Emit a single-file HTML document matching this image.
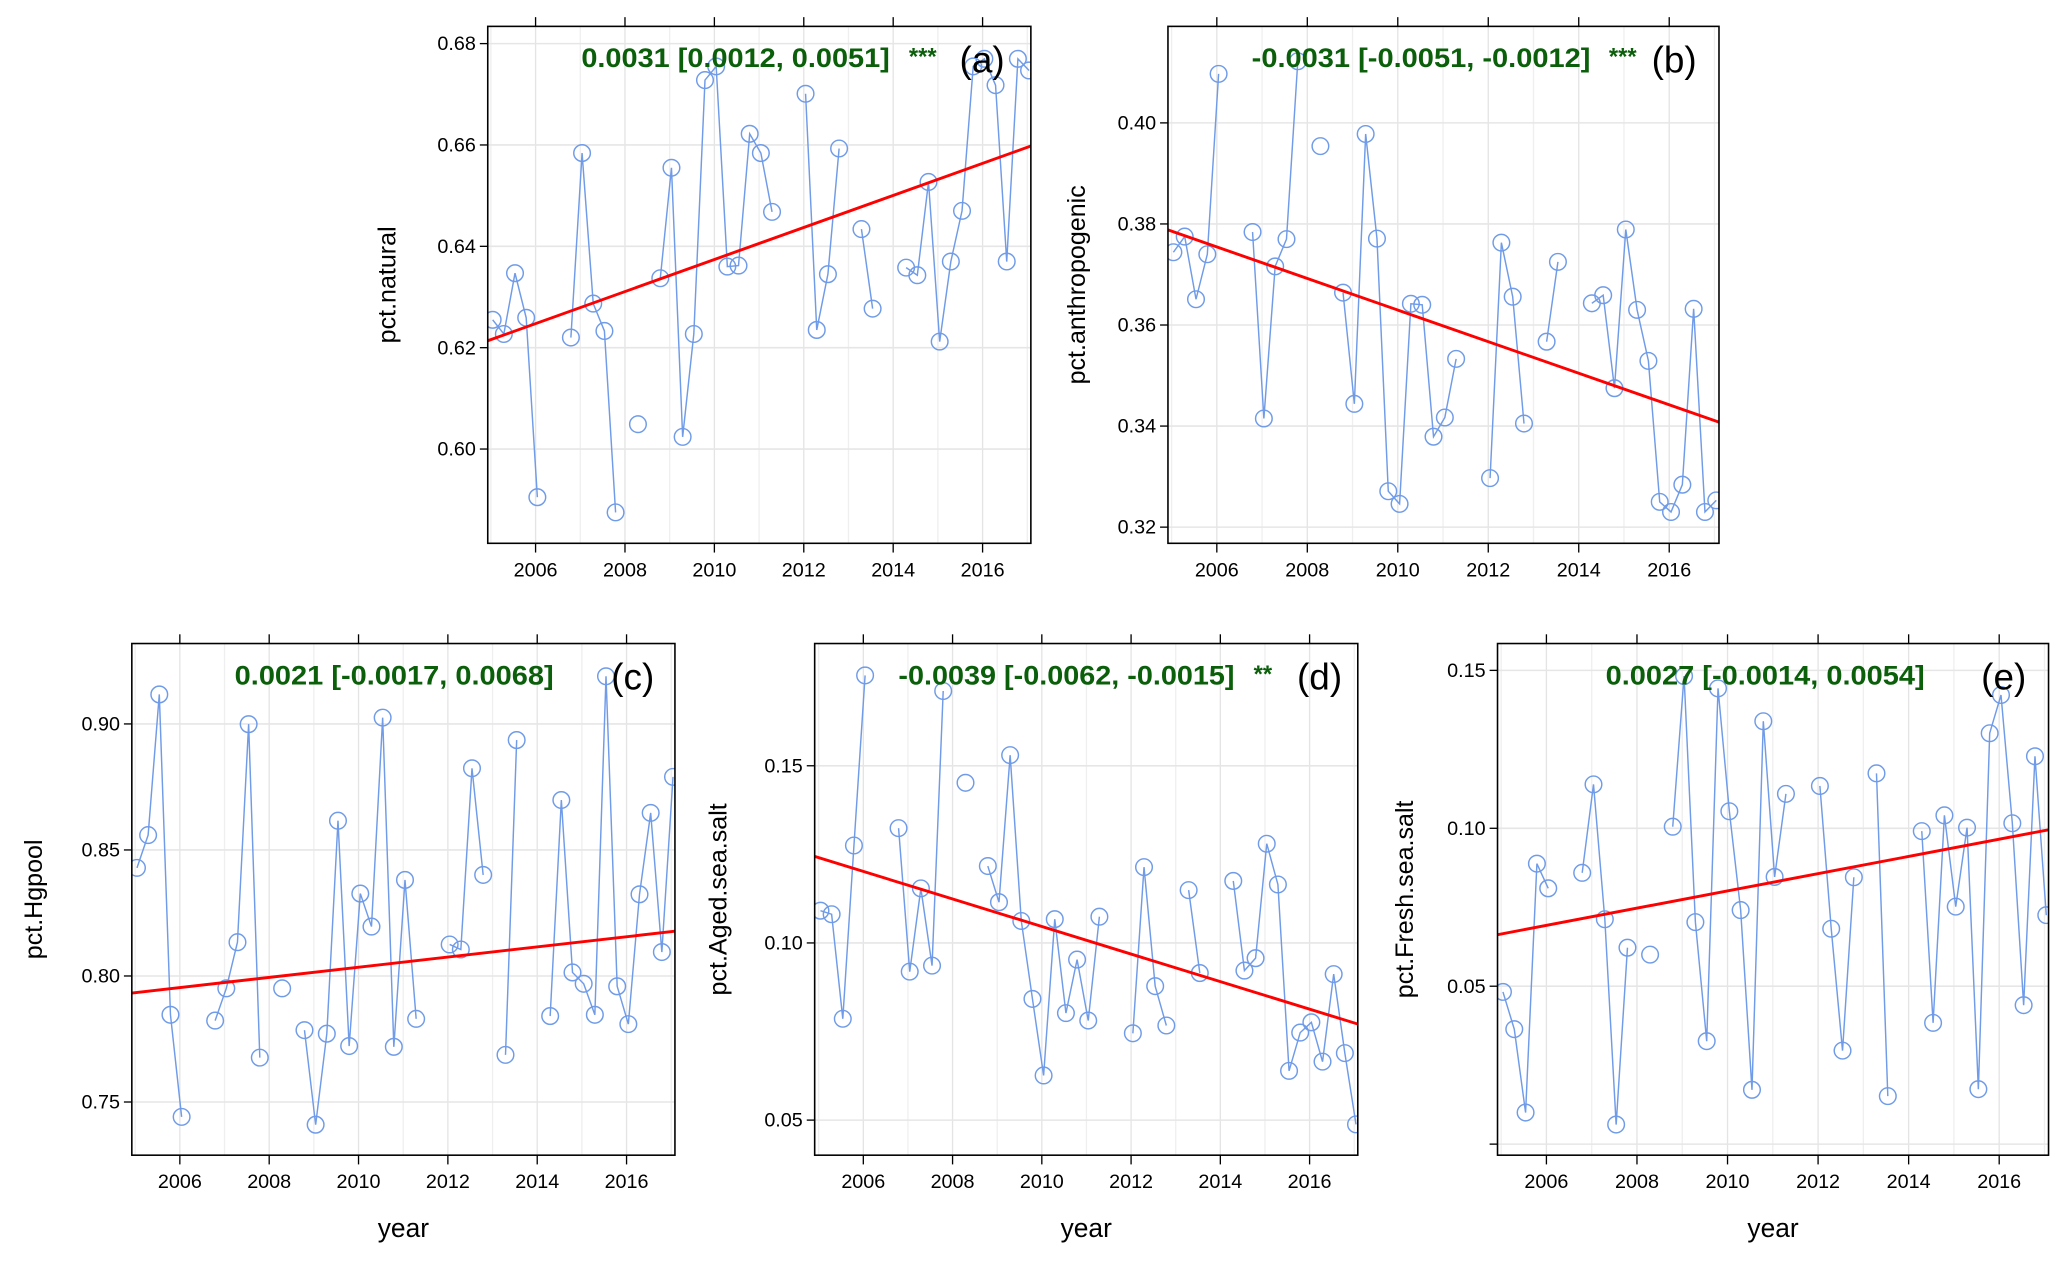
<!DOCTYPE html>
<html><head><meta charset="utf-8"><title>Trend panels</title>
<style>
html,body{margin:0;padding:0;background:#fff;}
svg{display:block;font-family:"Liberation Sans",Arial,sans-serif;}
</style></head>
<body>
<svg id="chart" xmlns="http://www.w3.org/2000/svg" width="2067" height="1262" viewBox="0 0 1568 957" preserveAspectRatio="none"></svg>
<script>
const quarterTimes = [2005.04,2005.29,2005.54,2005.79,2006.04,2006.29,2006.54,2006.79,2007.04,2007.29,2007.54,2007.79,2008.04,2008.29,2008.54,2008.79,2009.04,2009.29,2009.54,2009.79,2010.04,2010.29,2010.54,2010.79,2011.04,2011.29,2011.54,2011.79,2012.04,2012.29,2012.54,2012.79,2013.04,2013.29,2013.54,2013.79,2014.04,2014.29,2014.54,2014.79,2015.04,2015.29,2015.54,2015.79,2016.04,2016.29,2016.54,2016.79,2017.04];
const pctNatural = [.6255,.6227,.6347,.6259,.5905,null,null,.622,.6584,.6287,.6233,.5875,null,.6049,null,.6337,.6555,.6024,.6227,.6728,.6755,.636,.6362,.6622,.6584,.6468,null,null,.6701,.6235,.6345,.6593,null,.6434,.6277,null,null,.6358,.6343,.6527,.6212,.637,.647,.6755,.677,.6718,.637,.677,.6747];
const pctAnthropogenic = [.3744,.3775,.3651,.374,.4097,null,null,.3784,.3415,.3716,.377,.4122,null,.3954,null,.3664,.3444,.3978,.3771,.3271,.3246,.3642,.364,.3379,.3417,.3533,null,null,.3297,.3763,.3656,.3405,null,.3567,.3725,null,null,.3643,.3659,.3475,.3789,.363,.3529,.325,.323,.3284,.3632,.323,.3253];
const pctHgpool = [.8429,.8559,.9117,.7846,.7441,null,null,.7823,.7951,.8134,.8999,.7676,null,.7951,null,.7785,.741,.7771,.8616,.7722,.8327,.8196,.9025,.7719,.8381,.783,null,null,.8125,.8105,.8824,.8401,null,.7687,.8936,null,null,.7841,.8698,.8014,.7969,.7846,.9189,.7959,.7809,.8324,.8647,.8095,.879];
const pctAgedSeaSalt = [.1091,.1081,.0786,.1275,.1755,null,null,.1324,.0919,.1154,.0936,.1711,null,.1452,null,.1217,.1115,.153,.1062,.0842,.0626,.1067,.0802,.0953,.0781,.1074,null,null,.0745,.1214,.0878,.0767,null,.1149,.0915,null,null,.1175,.0922,.0957,.128,.1165,.0639,.0747,.0776,.0665,.0912,.0689,.0488];
const pctFreshSeaSalt = [.0482,.0364,.01,.0888,.081,null,null,.0859,.1139,.0712,.0062,.0622,null,.06,null,.1005,.1482,.0703,.0326,.1443,.1054,.0741,.0172,.1339,.0846,.1109,null,null,.1134,.0682,.0296,.0845,null,.1174,.0152,null,null,.0991,.0384,.1041,.0752,.1002,.0174,.1301,.1422,.1016,.044,.1228,.0725];
const xTickYears = [2006,2008,2010,2012,2014,2016];
const yTicksA = [0.60,0.62,0.64,0.66,0.68];
const yTicksB = [0.32,0.34,0.36,0.38,0.40];
const yTicksC = [0.75,0.80,0.85,0.90];
const yTicksD = [0.05,0.10,0.15];
const yTicksE = [0.00,0.05,0.10,0.15];
const annotationA = "0.0031 [0.0012, 0.0051]";
const annotationB = "-0.0031 [-0.0051, -0.0012]";
const annotationC = "0.0021 [-0.0017, 0.0068]";
const annotationD = "-0.0039 [-0.0062, -0.0015]";
const annotationE = "0.0027 [-0.0014, 0.0054]";

const NS = "http://www.w3.org/2000/svg";
const svg = document.getElementById('chart');
function mk(tag, attrs, parent){
  const e = document.createElementNS(NS, tag);
  for (const k in attrs) e.setAttribute(k, attrs[k]);
  (parent||svg).appendChild(e);
  return e;
}
function median(arr){
  const s = arr.slice().sort((a,b)=>a-b);
  const m = Math.floor(s.length/2);
  return s.length % 2 ? s[m] : (s[m-1]+s[m])/2;
}

const panels = [
  {id:'a', box:[370,20,782,412], xr:[2004.93,2017.08], yr:[0.5814,0.6834], vals:pctNatural, ticks:yTicksA, labels:yTicksA.map(v=>v.toFixed(2)), ylab:'pct.natural', ann:annotationA, annW:234, stars:'***', annX:558, starX:700, letX:745, xlab:false, ylabX:300},
  {id:'b', box:[886,20,1304,412], xr:[2004.92,2017.10], yr:[0.3168,0.4191], vals:pctAnthropogenic, ticks:yTicksB, labels:yTicksB.map(v=>v.toFixed(2)), ylab:'pct.anthropogenic', ann:annotationB, annW:257, stars:'***', annX:1078, starX:1231, letX:1270, xlab:false, ylabX:823},
  {id:'c', box:[100,488,512,876], xr:[2004.925,2017.083], yr:[0.7289,0.9319], vals:pctHgpool, ticks:yTicksC, labels:yTicksC.map(v=>v.toFixed(2)), ylab:'pct.Hgpool', ann:annotationC, annW:242, stars:'', annX:299, starX:0, letX:480, xlab:true, ylabX:32},
  {id:'d', box:[618,488,1030,876], xr:[2004.91,2017.08], yr:[0.0401,0.1845], vals:pctAgedSeaSalt, ticks:yTicksD, labels:yTicksD.map(v=>v.toFixed(2)), ylab:'pct.Aged.sea.salt', ann:annotationD, annW:255, stars:'**', annX:809, starX:958, letX:1001, xlab:true, ylabX:551},
  {id:'e', box:[1136,488,1554,876], xr:[2004.92,2017.09], yr:[-0.0035,0.1585], vals:pctFreshSeaSalt, ticks:yTicksE, labels:yTicksE.map(v=>v===0?'':v.toFixed(2)), ylab:'pct.Fresh.sea.salt', ann:annotationE, annW:242, stars:'', annX:1339, starX:0, letX:1520, xlab:true, ylabX:1072}
];

panels.forEach(p => {
  const [x0,y0,x1,y1] = p.box;
  const X = t => x0 + (t - p.xr[0])/(p.xr[1]-p.xr[0])*(x1-x0);
  const Y = v => y1 - (v - p.yr[0])/(p.yr[1]-p.yr[0])*(y1-y0);
  const g = mk('g', {});
  
  
  const clipId = 'clip-' + p.id;
  const cp = mk('clipPath', {id: clipId}, g);
  mk('rect', {x:x0, y:y0, width:x1-x0, height:y1-y0}, cp);

  for (let yr = 2005; yr <= 2017; yr++) {
    const gx = X(yr);
    if (gx <= x0 || gx >= x1) continue;
    const major = xTickYears.includes(yr);
    const l = mk('line', {x1:gx, x2:gx, y1:y0, y2:y1, stroke: major ? '#e4e4e4' : '#efefef', 'stroke-width':1}, g);
    
    
  }
  p.ticks.forEach((v, i) => {
    const gy = Y(v);
    const l = mk('line', {x1:x0, x2:x1, y1:gy, y2:gy, stroke:'#e6e6e6', 'stroke-width':1.2}, g);
    
    
    const tk = mk('line', {x1:x0-6, x2:x0, y1:gy, y2:gy, stroke:'#000', 'stroke-width':1}, g);
    
    
    if (p.labels[i] !== '') {
      const t = mk('text', {x:x0-9, y:gy+5, 'text-anchor':'end', 'font-size':15, fill:'#000'}, g);
      t.textContent = p.labels[i];
      
      
    }
  });
  xTickYears.forEach(yr => {
    const gx = X(yr);
    const tb = mk('line', {x1:gx, x2:gx, y1:y1, y2:y1+7, stroke:'#000', 'stroke-width':1}, g);
    
    
    const tt = mk('line', {x1:gx, x2:gx, y1:y0-7, y2:y0, stroke:'#000', 'stroke-width':1}, g);
    
    
    const t = mk('text', {x:gx, y:y1+25, 'text-anchor':'middle', 'font-size':15, fill:'#000'}, g);
    t.textContent = String(yr);
    
    
  });

  const inner = mk('g', {'clip-path':'url(#' + clipId + ')'}, g);
  let seg = [];
  const flush = () => {
    if (seg.length > 1) {
      const pl = mk('polyline', {points: seg.join(' '), fill:'none', stroke:'#6f9be8', 'stroke-width':1.1}, inner);
      
      
    }
    seg = [];
  };
  p.vals.forEach((v, i) => {
    if (v === null) { flush(); return; }
    seg.push(X(quarterTimes[i]).toFixed(2) + ',' + Y(v).toFixed(2));
  });
  flush();
  p.vals.forEach((v, i) => {
    if (v === null) return;
    const c = mk('circle', {cx:X(quarterTimes[i]), cy:Y(v), r:6.3, fill:'none', stroke:'#6f9be8', 'stroke-width':1.1}, inner);
    
    
  });

  // Theil-Sen trend line from data
  const pts = [];
  p.vals.forEach((v,i)=>{ if(v!==null) pts.push([quarterTimes[i], v]); });
  const slopes = [];
  for (let i=0;i<pts.length;i++) for (let j=i+1;j<pts.length;j++) {
    const dt = pts[j][0]-pts[i][0];
    if (dt !== 0) slopes.push((pts[j][1]-pts[i][1])/dt);
  }
  const slope = median(slopes);
  const icpt = median(pts.map(q => q[1] - slope*q[0]));
  const tl = mk('line', {x1:X(p.xr[0]), y1:Y(icpt+slope*p.xr[0]), x2:X(p.xr[1]), y2:Y(icpt+slope*p.xr[1]), stroke:'#ff0000', 'stroke-width':2.2}, inner);
  
  

  const fr = mk('rect', {x:x0, y:y0, width:x1-x0, height:y1-y0, fill:'none', stroke:'#000', 'stroke-width':1.2}, g);
  
  

  const an = mk('text', {x:p.annX - p.annW/2, y:y0+31, 'font-size':20, 'font-weight':'bold', fill:'#0b5f0b', textLength:p.annW, lengthAdjust:'spacingAndGlyphs'}, g);
  an.textContent = p.ann;
  
  
  if (p.stars) {
    const st = mk('text', {x:p.starX, y:y0+29, 'text-anchor':'middle', 'font-size':18, 'font-weight':'bold', fill:'#0b5f0b'}, g);
    st.textContent = p.stars;
    
    
  }
  const lt = mk('text', {x:p.letX, y:y0+35, 'text-anchor':'middle', 'font-size':28, fill:'#000'}, g);
  lt.textContent = '(' + p.id + ')';
  
  

  const cy = (y0+y1)/2;
  const yt = mk('text', {x:p.ylabX, y:cy, 'text-anchor':'middle', 'font-size':19, fill:'#000', transform:'rotate(-90 ' + p.ylabX + ' ' + cy + ')'}, g);
  yt.textContent = p.ylab;
  
  

  if (p.xlab) {
    const xt = mk('text', {x:(x0+x1)/2, y:y1+62, 'text-anchor':'middle', 'font-size':20, fill:'#000'}, g);
    xt.textContent = 'year';
    
    
  }
});
</script>
</body></html>
